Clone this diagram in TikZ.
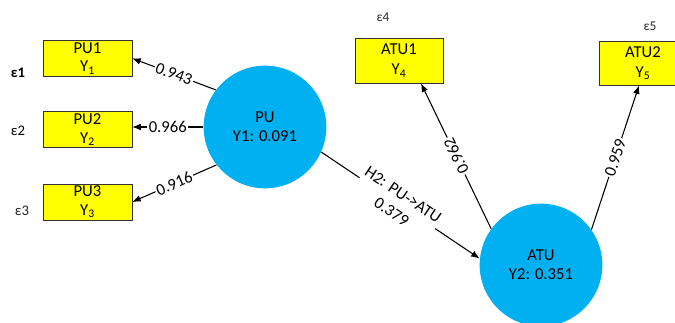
\documentclass[tikz,border=0pt]{standalone}
\usepackage{fontspec}
\setmainfont{Carlito}
\usepackage{tikz}
\usetikzlibrary{arrows.meta, positioning}
\definecolor{lvblue}{HTML}{00B0F0}
\definecolor{mvyellow}{HTML}{FFFF00}

\begin{document}
\begin{tikzpicture}[
    x=0.75pt, y=0.75pt,
    font=\fontsize{12.5}{14}\selectfont,
    indicator/.style={draw=black!80, fill=mvyellow, minimum width=66.5pt,
                      minimum height=27pt, align=center, inner sep=1pt},
    latent/.style={circle, fill=lvblue, minimum size=92pt, inner sep=0pt, align=center},
    err/.style={font=\fontsize{10}{12}\selectfont, text=black!85},
    load/.style={fill=white, inner sep=1pt, sloped},
    arr/.style={-{Latex[length=6.5pt, width=5pt]}, line width=0.8pt},
  ]
  \useasboundingbox (0,0) rectangle (675,323);

  % Latent variables
  \node[latent] (PU) at (265,196) {PU\\[0.5pt]Y1: 0.091};
  \node[latent] (ATU) at (541,58) {ATU\\[0.5pt]Y2: 0.351};

  % PU indicators
  \node[indicator] (PU2) at (87.5,193.5) {PU2\\Y\textsubscript{2}};
  \node[indicator, above=26pt of PU2] (PU1) {PU1\\Y\textsubscript{1}};
  \node[indicator, below=27pt of PU2] (PU3) {PU3\\Y\textsubscript{3}};

  % ATU indicators
  \node[indicator, minimum width=66pt, minimum height=33.75pt] (ATU1) at (399,262.5) {ATU1\\[1pt]Y\textsubscript{4}};
  \node[indicator, minimum width=66pt, minimum height=33pt] (ATU2) at (643,260) {ATU2\\[1pt]Y\textsubscript{5}};

  % Error terms
  \node[err, font=\fontsize{11}{12}\selectfont\bfseries, text=black] (e1) at (18,250) {ε1};
  \node[err, font=\fontsize{11}{12}\selectfont, text=black] (e2) at (18,192) {ε2};
  \node[err, font=\fontsize{11}{12}\selectfont] (e3) at (22,112) {ε3};
  \node[err] (e4) at (383,306) {ε4};
  \node[err] (e5) at (650,297) {ε5};

  % Loadings
  \draw[arr] (PU.143) -- node[load] {0.943} (PU1.east);
  \draw[arr] (PU.west) -- node[load] {0.966} (PU.west -| PU2.east);
  \draw[arr] (PU.218) -- node[load] {0.916} (PU3.east);
  \draw[arr] (ATU.144) -- node[load, allow upside down] {0.962} (ATU1.-46);
  \draw[arr] (ATU.35) -- node[load] {0.959} (ATU2.-100);

  % Path
  \draw[arr] (PU.336) -- node[load, align=center, pos=0.48] {H2: PU->ATU\\[1.5pt]0.379} (ATU.174);

\end{tikzpicture}
\end{document}
